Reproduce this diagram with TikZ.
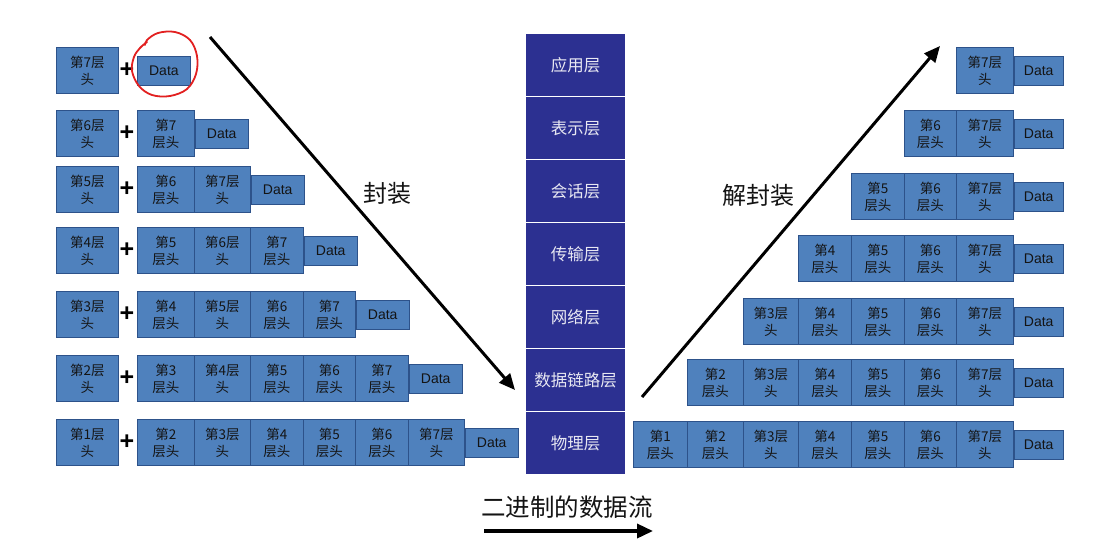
\documentclass[tikz,border=0pt]{standalone}
\usepackage{fontspec}
\setmainfont{Liberation Sans}
\newfontfamily\cjk{Noto Sans CJK SC}
\usetikzlibrary{arrows.meta}

\definecolor{hdrfill}{RGB}{79,129,189}
\definecolor{hdrline}{RGB}{45,82,138}
\definecolor{osiblue}{RGB}{44,48,145}
\definecolor{ositext}{RGB}{232,232,242}
\definecolor{ringred}{RGB}{226,32,32}
\definecolor{ink}{RGB}{20,20,20}

\tikzset{
  hdr/.style={draw=hdrline, line width=0.8pt, fill=hdrfill, inner sep=0pt,
    anchor=north west, minimum height=46pt, align=center, text=ink,
    font=\cjk\fontsize{13.5}{17}\selectfont},
  datab/.style={draw=hdrline, line width=0.8pt, fill=hdrfill, inner sep=0pt,
    anchor=west, minimum height=29pt, text=ink,
    font=\fontsize{14}{16}\selectfont},
  plusn/.style={inner sep=0pt, text=black, font=\bfseries\fontsize{25}{25}\selectfont},
  osi/.style={fill=osiblue, inner sep=0pt, anchor=north west, minimum width=99pt,
    minimum height=61.5pt, text=ositext, font=\cjk\fontsize{16.5}{18}\selectfont},
  biglabel/.style={inner sep=0pt, text=ink, font=\cjk\fontsize{24}{26}\selectfont},
  flowarrow/.style={line width=3pt, -{Triangle[length=16pt,width=14pt]}}
}

% column edges of the header boxes
\def\lx{{137,194,250,303,355,408,464}}
\def\rx{{633,687,743,798,851,904,956,1013}}

% left (encapsulation) row: #1 row, #2 top, #3 own header, #4 count, #5 inner headers
\newcommand\lrow[5]{%
  \node[hdr, minimum width=62pt] (L#1h) at (56,#2) {#3};
  \node[plusn] (L#1p) at (127,#2+23) {+};
  \foreach \t [count=\j] in {#5} {%
    \pgfmathtruncatemacro\ia{\j-1}%
    \pgfmathsetmacro\xa{\lx[\ia]}%
    \pgfmathsetmacro\xb{\lx[\j]}%
    \pgfmathsetmacro\bw{\xb-\xa}%
    \node[hdr, minimum width=\bw pt] (L#1b\j) at (\xa,#2) {\t};
  }
  \node[datab, minimum width=53pt] (L#1d) at (L#1b#4.east) {Data};
}

% right (decapsulation) row: #1 row (= number of headers), #2 top, #3 headers
\newcommand\rrow[3]{%
  \foreach \t [count=\j] in {#3} {%
    \pgfmathtruncatemacro\ia{7-#1+\j-1}%
    \pgfmathtruncatemacro\ib{7-#1+\j}%
    \pgfmathsetmacro\xa{\rx[\ia]}%
    \pgfmathsetmacro\xb{\rx[\ib]}%
    \pgfmathsetmacro\bw{\xb-\xa}%
    \node[hdr, minimum width=\bw pt] (R#1b\j) at (\xa,#2) {\t};
  }
  \node[datab, minimum width=49pt] (R#1d) at (R#1b#1.east) {Data};
}

\begin{document}
\begin{tikzpicture}[x=1pt, y=-1pt]
  \fill[white] (0,0) rectangle (1108,552);
  \useasboundingbox (0,0) rectangle (1108,552);

  % ---- encapsulation, left side ----
  \node[hdr, minimum width=62pt] (L1h) at (56,47) {第7层\\头};
  \node[plusn] (L1p) at (127,70) {+};
  \node[datab, minimum width=53pt] (L1d) at (137,70.5) {Data};

  \lrow{2}{110}{第6层\\头}{1}{{第7\\层头}}
  \lrow{3}{166}{第5层\\头}{2}{{第6\\层头},{第7层\\头}}
  \lrow{4}{227}{第4层\\头}{3}{{第5\\层头},{第6层\\头},{第7\\层头}}
  \lrow{5}{291}{第3层\\头}{4}{{第4\\层头},{第5层\\头},{第6\\层头},{第7\\层头}}
  \lrow{6}{355}{第2层\\头}{5}{{第3\\层头},{第4层\\头},{第5\\层头},{第6\\层头},{第7\\层头}}
  \lrow{7}{419}{第1层\\头}{6}{{第2\\层头},{第3层\\头},{第4\\层头},{第5\\层头},{第6\\层头},{第7层\\头}}

  % hand-drawn ring around the first Data block
  \draw[ringred, line width=1.8pt, line cap=round]
    plot[smooth, tension=0.6] coordinates {(145,45) (147,40) (158,33) (175,32)
      (190,40) (197,56) (196,74) (187,89) (170,96) (152,95) (139,86) (132,71)
      (134,57) (140,48) (147,42)};

  % ---- OSI layer stack ----
  \foreach \n [count=\k] in {应用层,表示层,会话层,传输层,网络层,数据链路层,物理层} {
    \node[osi] (O\k) at (526,{34+63*(\k-1)}) {\n};
  }

  % ---- decapsulation, right side ----
  \rrow{1}{47}{{第7层\\头}}
  \rrow{2}{110}{{第6\\层头},{第7层\\头}}
  \rrow{3}{173}{{第5\\层头},{第6\\层头},{第7层\\头}}
  \rrow{4}{235}{{第4\\层头},{第5\\层头},{第6\\层头},{第7层\\头}}
  \rrow{5}{298}{{第3层\\头},{第4\\层头},{第5\\层头},{第6\\层头},{第7层\\头}}
  \rrow{6}{359}{{第2\\层头},{第3层\\头},{第4\\层头},{第5\\层头},{第6\\层头},{第7层\\头}}
  \rrow{7}{421}{{第1\\层头},{第2\\层头},{第3层\\头},{第4\\层头},{第5\\层头},{第6\\层头},{第7层\\头}}

  % ---- direction arrows and captions ----
  \coordinate (encS) at (210,37);
  \coordinate (encE) at (515,390);
  \coordinate (decS) at (642,397);
  \coordinate (decE) at (940,46);
  \draw[flowarrow] (encS) -- (encE);
  \draw[flowarrow] (decS) -- (decE);
  \node[biglabel] (enc) at (387,193) {封装};
  \node[biglabel] (dec) at (758,195) {解封装};

  \node[biglabel, font=\cjk\fontsize{24.5}{26}\selectfont] (flow) at (567,507) {二进制的数据流};
  \coordinate (flowS) at (484,531);
  \coordinate (flowE) at (653,531);
  \draw[flowarrow, line width=3.5pt] (flowS) -- (flowE);
\end{tikzpicture}
\end{document}
